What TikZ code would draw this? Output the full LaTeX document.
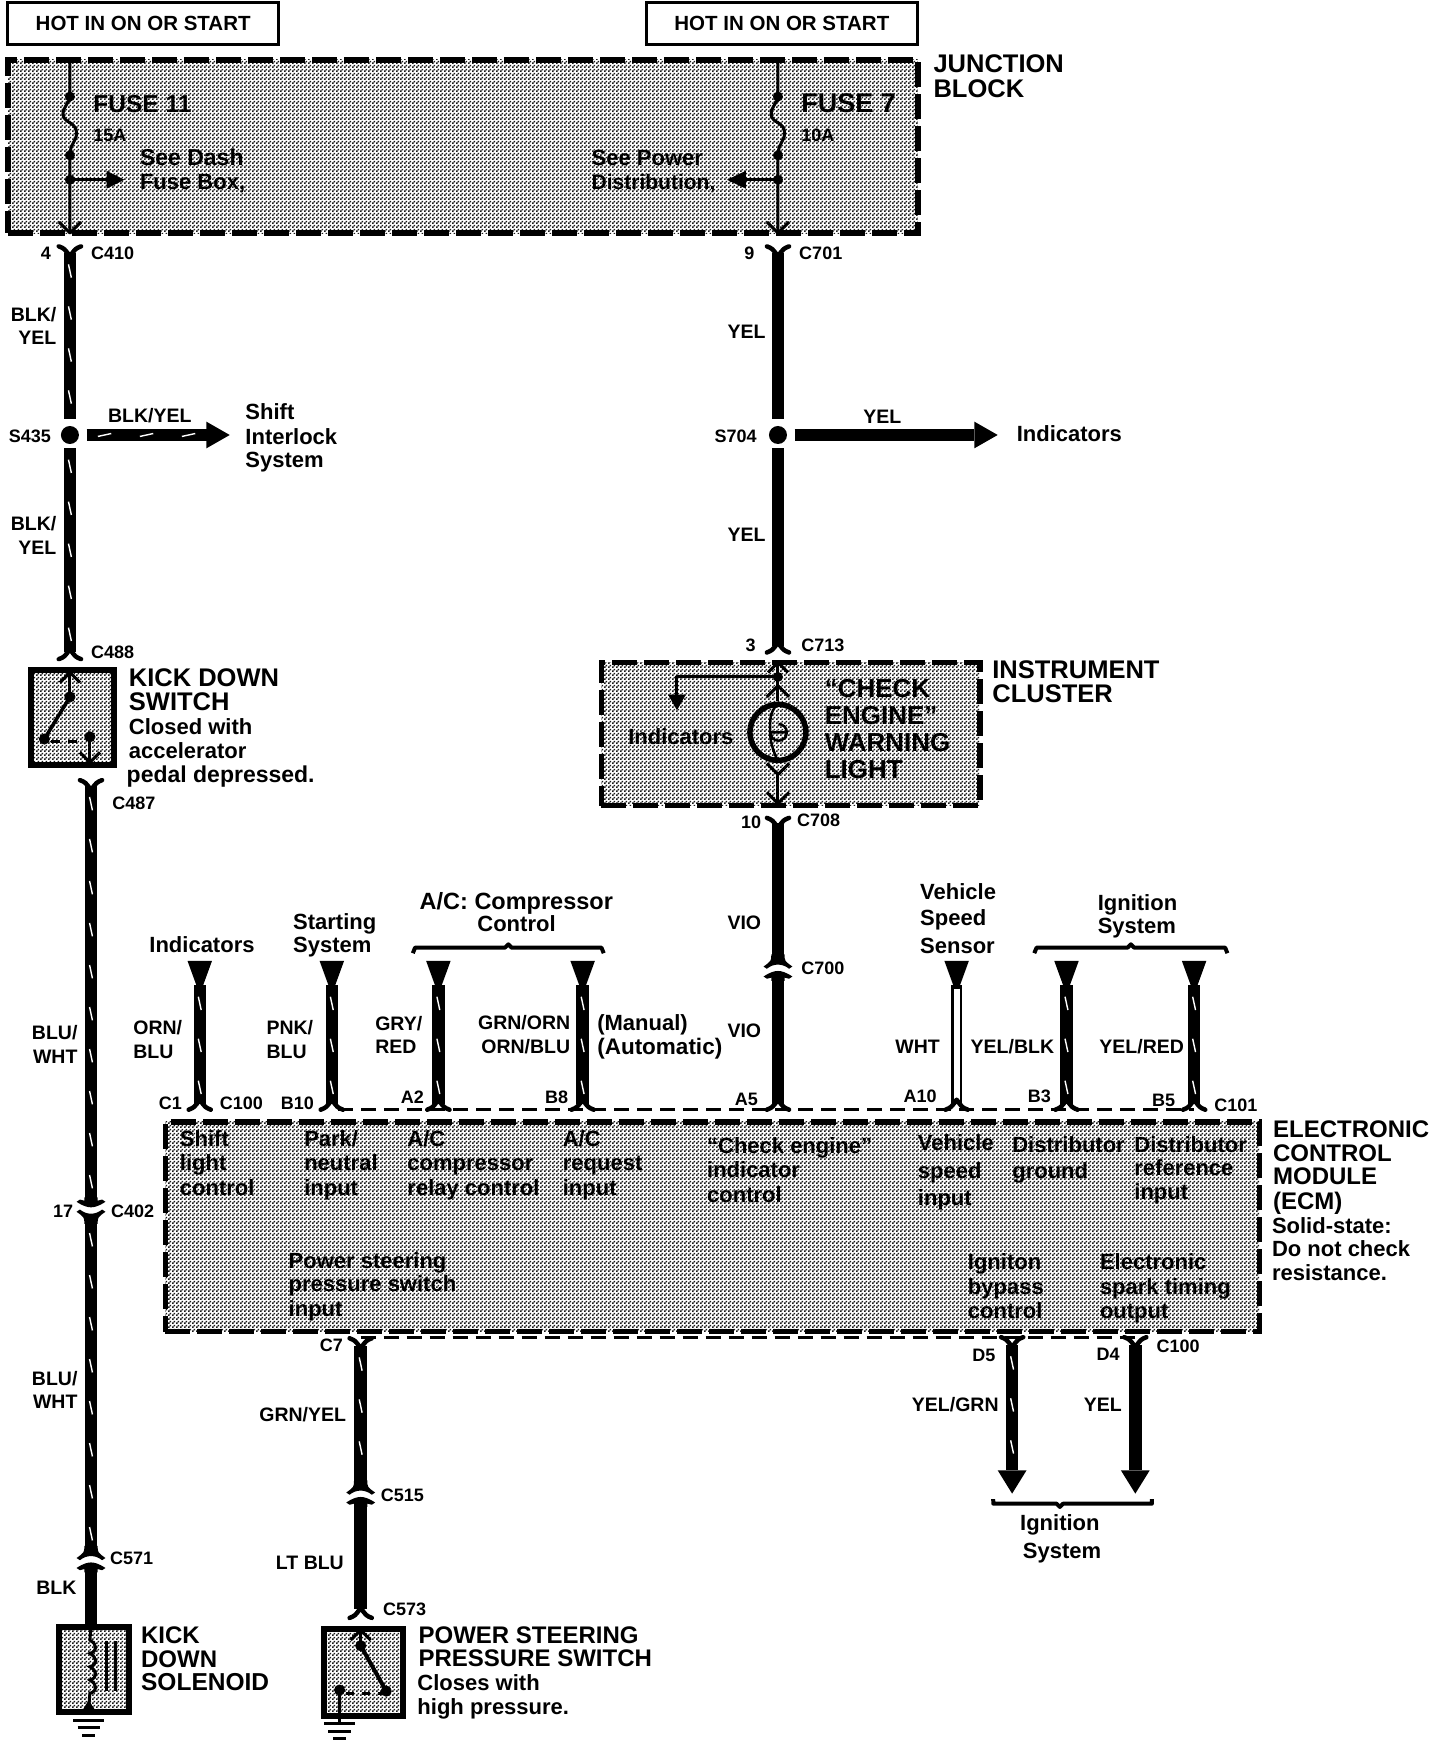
\documentclass[tikz,border=0pt]{standalone}
\usepackage{fontspec}
\setmainfont{Liberation Sans}
\usetikzlibrary{patterns,fit,decorations.markings}
\pgfdeclarepatternformonly{dither}{\pgfqpoint{0pt}{0pt}}{\pgfqpoint{4pt}{4pt}}{\pgfqpoint{4pt}{4pt}}{%
  \pgfpathrectangle{\pgfqpoint{0pt}{0pt}}{\pgfqpoint{2pt}{2pt}}%
  \pgfpathrectangle{\pgfqpoint{2pt}{2pt}}{\pgfqpoint{2pt}{2pt}}%
  \pgfusepath{fill}}
\newcounter{tn}
\newcommand\lab[4][]{\stepcounter{tn}\node[lbl,#1] (t\arabic{tn}) at (#2,#3) {#4};}
\newcommand\clr[4][]{\stepcounter{tn}\node[lbl,font=\fontsize{19.5}{20}\selectfont\bfseries,text height=14pt,#1] (t\arabic{tn}) at (#2,#3) {#4};}
\newcommand\bod[4][]{\stepcounter{tn}\node[bodytx,#1] (t\arabic{tn}) at (#2,#3) {#4};}
\newcommand\hdr[4][]{\stepcounter{tn}\node[captx,#1] (t\arabic{tn}) at (#2,#3) {#4};}
% named wire: name, x, y1, y2
\newcommand\vwire[5][]{\coordinate (#2a) at (#3,#4);\coordinate (#2b) at (#3,#5);\draw[wire,#1] (#2a) -- (#2b);}
% flare at a connector end: x, tip y, sign
\newcommand\flr[3]{\draw[flarestyle] (#1-10,#2) .. controls (#1-5,#2+#3*2) .. (#1,#2+#3*9) .. controls (#1+5,#2+#3*2) .. (#1+10,#2);}
% inline connector: x, y, sign
\newcommand\inl[3]{\fill (#1-6,#2-#3*9) .. controls (#1-6,#2-#3*3) .. (#1-13,#2+#3*2) -- (#1-10,#2+#3*4) .. controls (#1-4,#2-#3*1) and (#1+4,#2-#3*1) .. (#1+10,#2+#3*4) -- (#1+13,#2+#3*2) .. controls (#1+6,#2-#3*3) .. (#1+6,#2-#3*9) -- cycle;
 \fill (#1-13,#2+#3*11) .. controls (#1-7,#2+#3*7) and (#1-3,#2+#3*6) .. (#1,#2+#3*6) .. controls (#1+3,#2+#3*6) and (#1+7,#2+#3*7) .. (#1+13,#2+#3*11) -- (#1+10,#2+#3*13) -- (#1+6,#2+#3*12) -- (#1+6,#2+#3*15) -- (#1-6,#2+#3*15) -- (#1-6,#2+#3*12) -- (#1-10,#2+#3*13) -- cycle;}
\newcommand\wdg[1]{\fill (#1-11,866) -- (#1+11,866) -- (#1+3,888) -- (#1-3,888) -- cycle;}
\newcommand\chev[3]{\draw[hair] (#1-10,#2-#3*10) -- (#1,#2) -- (#1+10,#2-#3*10);}
\newcommand\gnd[2]{\draw[line width=3pt] (#1-14,#2) -- (#1+14,#2) (#1-10,#2+7) -- (#1+10,#2+7) (#1-6,#2+14) -- (#1+6,#2+14);}
\newcommand\sqbox[5]{\coordinate (#1a) at (#2,#3);\coordinate (#1b) at (#4,#5);\node[sbox,fit=(#1a)(#1b)] (#1) {};}
\tikzset{
  txt/.style={inner sep=0pt,anchor=west,text depth=0pt},
  lbl/.style={txt,font=\fontsize{18}{18}\selectfont\bfseries,text height=13pt},
  bodytx/.style={txt,font=\fontsize{22}{22}\selectfont\bfseries,text height=16pt},
  captx/.style={txt,font=\fontsize{24}{24}\selectfont\bfseries,text height=17pt},
  capl/.style={font=\fontsize{25.5}{26}\selectfont\bfseries},
  capxl/.style={font=\fontsize{26}{26}\selectfont\bfseries},
  fuselbl/.style={font=\fontsize{24.5}{25}\selectfont\bfseries},
  amps/.style={font=\fontsize{18}{18}\selectfont\bfseries},
  wire/.style={line width=12.5pt},
  ticked/.style={postaction={decorate,decoration={markings,
     mark=between positions 18pt and -8pt step 42pt with {\draw[white,line width=1.4pt] (-6,1.3) -- (6,-1.3);}}}},
  flarestyle/.style={line width=4.5pt,line cap=round,line join=round},
  hair/.style={line width=3pt,line join=round},
  dashline/.style={line width=3pt,dash pattern=on 15pt off 8pt},
  dbox/.style={inner sep=0pt,draw,line width=5.5pt,dash pattern=on 25pt off 7pt,pattern=dither,pattern color=black!90},
  sbox/.style={inner sep=0pt,draw,line width=6pt,pattern=dither,pattern color=black!90},
  hotbox/.style={draw,line width=3.5pt,inner sep=0pt,minimum width=271pt,minimum height=42pt,font=\fontsize{20.5}{21}\selectfont\bfseries},
  brace/.style={line width=4pt,line join=round},
  dot/.style={circle,fill=black,inner sep=0pt}
}
\begin{document}
\begin{tikzpicture}[x=1.11111pt,y=-1.11111pt]
\useasboundingbox (0,0) rectangle (1296,1566);
\begin{scope}[xscale=0.9988,yscale=0.9987]
% top boxes
\node[hotbox] (hotL) at (129,21) {HOT IN ON OR START};
\node[hotbox] (hotR) at (704.5,21) {HOT IN ON OR START};
% shaded blocks
\coordinate (jba) at (7,54);\coordinate (jbb) at (827,210);
\node[dbox,fit=(jba)(jbb)] (jb) {};
\coordinate (ica) at (542,597);\coordinate (icb) at (883,726);
\node[dbox,fit=(ica)(icb)] (ic) {};
\coordinate (ecma) at (149,1011);\coordinate (ecmb) at (1135,1200);
\node[dbox,fit=(ecma)(ecmb)] (ecm) {};
% dashed connector shells
\coordinate (dla) at (305,1000);\coordinate (dlb) at (1076,1000);
\draw[dashline] (dla) -- (dlb);
\coordinate (dlc) at (325,1205);\coordinate (dld) at (1025,1205);
\draw[dashline] (dlc) -- (dld);
% fuses in junction block
\foreach \fx/\fn in {63/a,701/b}{
  \draw[hair] (\fx,54) -- (\fx,87) .. controls (\fx,93) and (\fx-7,96) .. (\fx-6,104) .. controls (\fx-5,111) and (\fx+6,110) .. (\fx+6,120) .. controls (\fx+6,127) and (\fx,130) .. (\fx,140) -- (\fx,210);
  \fill (\fx,87) circle (4.5);\fill (\fx,140) circle (4.5);\fill (\fx,162) circle (4.5);
  \chev{\fx}{210}{1}
}
\coordinate (fa) at (63,162);\coordinate (fb) at (96,162);
\draw[hair] (fa) -- (fb);\fill (96,154) -- (112,162) -- (96,170) -- cycle;
\coordinate (fc) at (701,162);\coordinate (fd) at (672,162);
\draw[hair] (fc) -- (fd);\fill (672,154) -- (655,162) -- (672,170) -- cycle;
\hdr[fuselbl]{84}{94}{FUSE 11}
\lab[amps]{84}{122}{15A}
\bod[font=\fontsize{23}{23}\selectfont\bfseries]{126}{142}{See Dash}
\bod{126}{164}{Fuse Box,}
\hdr[font=\fontsize{27}{27}\selectfont\bfseries]{722}{94}{FUSE 7}
\lab[amps]{722}{122}{10A}
\bod{533}{142}{See Power}
\bod[font=\fontsize{21}{21}\selectfont\bfseries]{533}{164}{Distribution,}
\hdr[capl]{841}{58}{JUNCTION}
\hdr[capl]{841}{80}{BLOCK}
% left wire upper
\vwire[ticked]{w1}{63}{228}{378}\flr{63}{222}{1}
\node[dot,minimum size=18pt] (s435) at (63,392) {};
\vwire[ticked]{w2}{63}{404}{588}\flr{63}{594}{-1}
\coordinate (b1a) at (78,392);\coordinate (b1b) at (187,392);
\draw[wire,ticked] (b1a) -- (b1b);\fill (186,380) -- (207,392) -- (186,404) -- cycle;
\lab[anchor=east]{46}{228}{4}
\lab{82}{228}{C410}
\clr[anchor=east]{51}{283}{BLK/}
\clr[anchor=east]{51}{304}{YEL}
\lab[anchor=east]{46}{393}{S435}
\clr[anchor=center]{135}{374}{BLK/YEL}
\bod{221}{371}{Shift}
\bod{221}{393}{Interlock}
\bod{221}{414}{System}
\clr[anchor=east]{51}{472}{BLK/}
\clr[anchor=east]{51}{493}{YEL}
\lab{82}{588}{C488}
% right main wire
\vwire{w3}{701}{228}{378}\flr{701}{222}{1}
\node[dot,minimum size=18pt] (s704) at (701,392) {};
\vwire{w4}{701}{404}{582}\flr{701}{588}{-1}
\coordinate (b2a) at (716,392);\coordinate (b2b) at (878,392);
\draw[wire] (b2a) -- (b2b);\fill (878,380) -- (899,392) -- (878,404) -- cycle;
\lab[anchor=east]{680}{228}{9}
\lab{720}{228}{C701}
\clr[anchor=east]{690}{299}{YEL}
\lab[anchor=east]{682}{393}{S704}
\clr[anchor=center]{795}{375}{YEL}
\bod{916}{391}{Indicators}
\clr[anchor=east]{690}{482}{YEL}
\lab[anchor=east]{681}{581}{3}
\lab{722}{581}{C713}
% kick down switch
\sqbox{ks}{28}{604}{103}{689}
\draw[hair] (63,606) -- (63,628);
\draw[hair] (54,615) -- (63,606) -- (72,615);
\fill (63,628) circle (5);
\draw[line width=3.5pt] (63,628) -- (40,666);
\fill (40,666) circle (5);
\draw[line width=3pt,dash pattern=on 9pt off 8pt] (46,668) -- (76,668);
\fill (81,664) circle (5);
\draw[hair] (81,664) -- (81,687);
\draw[hair] (72,678) -- (81,687) -- (90,678);
\hdr[capl]{116}{611}{KICK DOWN}
\hdr[capl]{116}{633}{SWITCH}
\bod{116}{655}{Closed with}
\bod{116}{676}{accelerator}
\bod[font=\fontsize{23}{23}\selectfont\bfseries]{114}{698}{pedal depressed.}
% instrument cluster
\coordinate (ib) at (701,660);
\node[circle,draw,line width=5.5pt,minimum size=56pt,inner sep=0pt] (lamp) at (ib) {};
\draw[hair] (701,597) -- (701,632);
\draw[hair] (692,606) -- (701,597) -- (710,606);
\fill (701,610) circle (4.5);
\draw[hair] (691,628) -- (701,618) -- (711,628);
\draw[hair] (701,610) -- (610,610) -- (610,628);
\fill (602,626) -- (618,626) -- (610,640) -- cycle;
\draw[line width=2.5pt] (701,634) .. controls (693,642) and (694,650) .. (694,660) .. controls (694,668) and (696,675) .. (701,686);
\draw[line width=2.5pt] (694,660) arc (180:-90:7.5) (694,660) -- (708,660);
\draw[hair] (691,688) -- (701,698) -- (711,688);
\draw[hair] (701,696) -- (701,724);
\draw[hair] (691,714) -- (701,724) -- (711,714);
\bod{566}{664}{Indicators}
\hdr[capxl]{743}{621}{“CHECK}
\hdr[capxl]{743}{645}{ENGINE”}
\hdr[capxl]{743}{670}{WARNING}
\hdr[capxl]{743}{694}{LIGHT}
\hdr[capl]{894}{604}{INSTRUMENT}
\hdr[capl]{894}{625}{CLUSTER}
\lab[anchor=east]{686}{741}{10}
\lab{718}{739}{C708}
% A5 wire
\vwire{w5}{701}{742}{862}\flr{701}{737}{1}
\inl{701}{869}{1}
\vwire{w6}{701}{882}{995}\flr{701}{1000}{-1}
\clr[anchor=east]{686}{831}{VIO}
\lab{722}{872}{C700}
\clr[anchor=east]{686}{929}{VIO}
% ECM upper wires
\foreach \wx/\wn in {180/p,299/q,395/r,525/s,961/u,1076/v}{
  \wdg{\wx}
  \vwire[ticked]{\wn}{\wx}{888}{995}
  \flr{\wx}{1000}{-1}
}
\wdg{862}
\vwire[line width=11pt]{wa}{862}{888}{995}
\coordinate (wwa) at (862,891);\coordinate (wwb) at (862,992);
\draw[white,line width=6pt] (wwa) -- (wwb);
\flr{862}{1000}{-1}
\bod[anchor=center]{182}{851}{Indicators}
\bod{264}{830}{Starting}
\bod{264}{851}{System}
\bod[font=\fontsize{23.5}{24}\selectfont\bfseries]{378}{812}{A/C: Compressor}
\bod{430}{832}{Control}
\coordinate (bra) at (372,859);\coordinate (brb) at (544,859);
\draw[brace] (bra) -- (374,854) -- (455,854) -- (458,851) -- (461,854) -- (542,854) -- (brb);
\bod{829}{803}{Vehicle}
\bod{829}{827}{Speed}
\bod{829}{852}{Sensor}
\bod{989}{813}{Ignition}
\bod{989}{834}{System}
\coordinate (brc) at (932,859);\coordinate (brd) at (1106,859);
\draw[brace] (brc) -- (934,854) -- (1016,854) -- (1019,851) -- (1022,854) -- (1104,854) -- (brd);
\clr{120}{926}{ORN/}
\clr{120}{948}{BLU}
\clr{240}{926}{PNK/}
\clr{240}{948}{BLU}
\clr{338}{922}{GRY/}
\clr{338}{943}{RED}
\clr[anchor=east]{514}{921}{GRN/ORN}
\clr[anchor=east]{514}{943}{ORN/BLU}
\bod{538}{921}{(Manual)}
\bod[font=\fontsize{22.5}{23}\selectfont\bfseries]{538}{943}{(Automatic)}
\clr[anchor=east]{847}{943}{WHT}
\clr[anchor=east]{950}{943}{YEL/BLK}
\clr[anchor=east]{1067}{943}{YEL/RED}
\lab{143}{994}{C1}
\lab{198}{994}{C100}
\lab{253}{994}{B10}
\lab{361}{989}{A2}
\lab{491}{989}{B8}
\lab{662}{990}{A5}
\lab{814}{988}{A10}
\lab{926}{988}{B3}
\lab{1038}{991}{B5}
\lab{1094}{996}{C101}
% ECM texts
\bod{162}{1026}{Shift}
\bod{162}{1048}{light}
\bod{162}{1070}{control}
\bod{274}{1026}{Park/}
\bod{274}{1048}{neutral}
\bod{274}{1070}{input}
\bod{367}{1026}{A/C}
\bod{367}{1048}{compressor}
\bod{367}{1070}{relay control}
\bod{507}{1026}{A/C}
\bod{507}{1048}{request}
\bod{507}{1070}{input}
\bod{637}{1032}{“Check engine”}
\bod{637}{1054}{indicator}
\bod{637}{1076}{control}
\bod{827}{1030}{Vehicle}
\bod{827}{1055}{speed}
\bod{827}{1079}{input}
\bod{912}{1031}{Distributor}
\bod{912}{1055}{ground}
\bod{1022}{1031}{Distributor}
\bod{1022}{1052}{reference}
\bod{1022}{1074}{input}
\bod{260}{1136}{Power steering}
\bod{260}{1157}{pressure switch}
\bod{260}{1179}{input}
\bod{872}{1137}{Igniton}
\bod{872}{1159}{bypass}
\bod{872}{1181}{control}
\bod{991}{1137}{Electronic}
\bod{991}{1159}{spark timing}
\bod{991}{1181}{output}
\hdr{1147}{1017}{ELECTRONIC}
\hdr{1147}{1039}{CONTROL}
\hdr{1147}{1060}{MODULE}
\hdr{1147}{1082}{(ECM)}
\bod{1146}{1104}{Solid-state:}
\bod{1146}{1125}{Do not check}
\bod{1146}{1147}{resistance.}
% left lower wire
\vwire[ticked]{w7}{82}{708}{1083}\flr{82}{703}{1}
\inl{82}{1094}{-1}
\vwire[ticked]{w8}{82}{1101}{1394}
\inl{82}{1402}{1}
\vwire{w9}{82}{1414}{1465}
\lab{101}{724}{C487}
\clr[anchor=east]{70}{930}{BLU/}
\clr[anchor=east]{70}{952}{WHT}
\lab[anchor=east]{66}{1091}{17}
\lab{100}{1091}{C402}
\clr[anchor=east]{70}{1242}{BLU/}
\clr[anchor=east]{70}{1263}{WHT}
\lab{99}{1404}{C571}
\clr[anchor=east]{69}{1431}{BLK}
% kick down solenoid
\sqbox{sol}{53}{1466}{116}{1543}
\draw[line width=3pt] (82,1466) -- (81,1478) .. controls (88,1482) and (88,1488) .. (81,1490) .. controls (88,1494) and (88,1500) .. (81,1502) .. controls (88,1506) and (88,1512) .. (81,1514) .. controls (88,1518) and (88,1524) .. (81,1526) -- (80,1538);
\fill (80,1532) -- (88,1545) -- (72,1545) -- cycle;
\coordinate (cra) at (96,1479);\coordinate (crb) at (96,1524);\draw[line width=3pt] (cra) -- (crb);
\coordinate (crc) at (104,1479);\coordinate (crd) at (104,1524);\draw[line width=3pt] (crc) -- (crd);
\gnd{80}{1550}
\hdr{127}{1473}{KICK}
\hdr{127}{1495}{DOWN}
\hdr[font=\fontsize{24.5}{25}\selectfont\bfseries]{127}{1516}{SOLENOID}
% lower wires of ECM
\vwire[ticked]{w10}{325}{1213}{1336}\flr{325}{1206}{1}
\inl{325}{1343}{1}
\vwire{w11}{325}{1356}{1450}\flr{325}{1458}{-1}
\lab{288}{1212}{C7}
\clr[anchor=east]{312}{1275}{GRN/YEL}
\lab{343}{1347}{C515}
\clr[anchor=east]{310}{1408}{LT BLU}
\lab{345}{1450}{C573}
\sqbox{ps}{292}{1468}{363}{1546}
\draw[hair] (316,1478) -- (325,1469) -- (334,1478);
\draw[hair] (325,1469) -- (325,1483);
\fill (325,1483) circle (5);
\draw[line width=4pt] (325,1483) -- (348,1524);
\fill (348,1524) circle (5);
\draw[line width=3pt,dash pattern=on 8pt off 8pt] (312,1526) -- (344,1526);
\fill (306,1523) circle (5);
\draw[hair] (306,1523) -- (306,1552);
\gnd{306}{1553}
\bod{376}{1516}{Closes with}
\bod{376}{1538}{high pressure.}
\hdr{377}{1473}{POWER STEERING}
\hdr{377}{1494}{PRESSURE SWITCH}
% ignition outputs
\vwire[ticked]{w12}{912}{1212}{1325}\flr{912}{1205}{1}
\fill (899,1325) -- (925,1325) -- (912,1346) -- cycle;
\vwire{w13}{1023}{1212}{1325}\flr{1023}{1205}{1}
\fill (1010,1325) -- (1036,1325) -- (1023,1346) -- cycle;
\coordinate (bre) at (895,1351);\coordinate (brf) at (1038,1351);
\draw[brace] (bre) -- (895,1355) -- (952,1355) -- (955,1358) -- (958,1355) -- (1038,1355) -- (brf);
\lab[anchor=east]{897}{1221}{D5}
\lab[anchor=east]{1009}{1220}{D4}
\lab{1042}{1213}{C100}
\clr[anchor=east]{900}{1266}{YEL/GRN}
\clr[anchor=east]{1011}{1266}{YEL}
\bod[anchor=center]{955}{1372}{Ignition}
\bod[anchor=center]{957}{1397}{System}
\end{scope}
\end{tikzpicture}
\end{document}
